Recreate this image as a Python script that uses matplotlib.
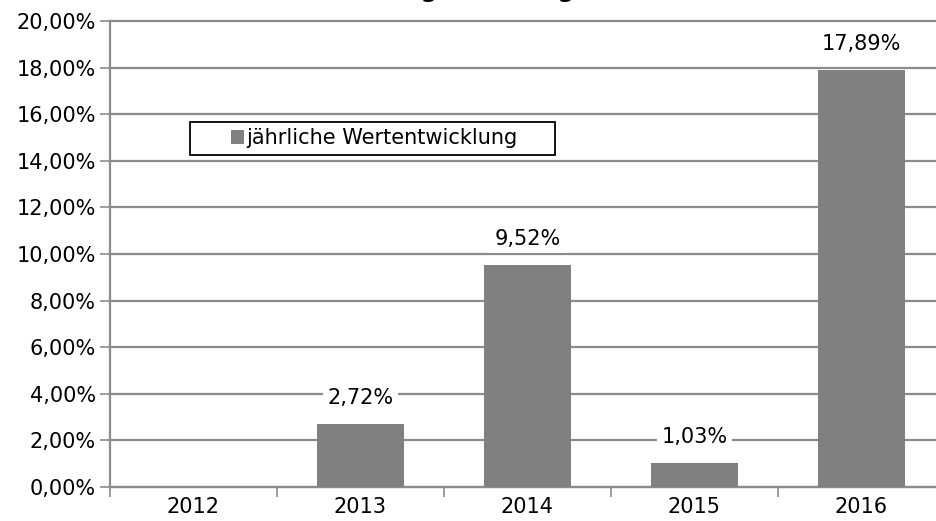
import matplotlib.pyplot as plt
from matplotlib.patches import Rectangle
import numpy as np

# Daten
jahre = ["2012", "2013", "2014", "2015", "2016"]
werte = [0.0, 2.72, 9.52, 1.03, 17.89]
labels = ["", "2,72%", "9,52%", "1,03%", "17,89%"]
yticks = [0, 2, 4, 6, 8, 10, 12, 14, 16, 18, 20]
titel = "Wertentwicklung der Anlage 2012 bis 2016 (%)"
legende = "jährliche Wertentwicklung"

plt.rcParams['font.family'] = ['DejaVu Sans']

W, H = 937, 521
fig = plt.figure(figsize=(W / 100, H / 100), dpi=100)
# Plotbereich in Pixeln: links 110, rechts 945 (abgeschnitten), oben 21, unten 487
ax = fig.add_axes([110 / W, (H - 487) / H, 835 / W, 466 / H])

def ax_px(px, py):
    return (px - 110) / 835, (487 - py) / 466

grau = "#8c8c8c"
fs = 15
x = np.arange(len(jahre))
ax.bar(x, werte, width=0.515, color="#808080", label=legende, zorder=3)

ax.set_xlim(-0.5, len(jahre) - 0.5)
ax.set_ylim(0, 20)
ax.set_yticks(yticks)
ax.set_yticklabels(["%d,00%%" % v for v in yticks], fontsize=fs)
ax.set_xticks(x)
ax.set_xticklabels(jahre, fontsize=fs)
ax.set_xticks(np.arange(len(jahre) + 1) - 0.5, minor=True)
ax.tick_params(axis="x", which="major", length=0, pad=7)
ax.tick_params(axis="x", which="minor", length=7, width=1.2, color=grau, direction="out")
ax.tick_params(axis="y", length=7, width=1.2, color=grau, pad=3)

ax.grid(axis="y", color=grau, linewidth=1.6, zorder=0)
for gl in ax.get_ygridlines():
    gl.set_clip_on(False)
for s in ["top", "right"]:
    ax.spines[s].set_visible(False)
for s in ["left", "bottom"]:
    ax.spines[s].set_color(grau)
    ax.spines[s].set_linewidth(1.6)

for xi, v, lab in zip(x, werte, labels):
    if lab:
        ax.annotate(lab, (xi, v), xytext=(0, 18.7), textcoords="offset points",
                    ha="center", va="center", fontsize=fs, zorder=4,
                    bbox=dict(facecolor="white", edgecolor="none", pad=3))

# Legendenrahmen wie im Original (breiter als der Text)
x0, y1 = ax_px(190, 122)
x1, y0 = ax_px(555, 155)
ax.add_patch(Rectangle((x0, y0), x1 - x0, y1 - y0, transform=ax.transAxes,
                       facecolor="white", edgecolor="black", linewidth=1.3,
                       zorder=5))
lx, ly = ax_px(231, 138.5)
leg = ax.legend(loc="center left", bbox_to_anchor=(lx, ly), fontsize=fs,
                frameon=False, handlelength=0.62, handleheight=0.62,
                handletextpad=0.1, borderpad=0, borderaxespad=0)
leg.set_zorder(6)

# Titel oben abgeschnitten wie im Original
fig.text(525 / W, 1 + 3.5 / H, titel, ha="center", va="baseline",
         fontsize=17, fontweight="bold")

fig.savefig("out.png", dpi=100)
